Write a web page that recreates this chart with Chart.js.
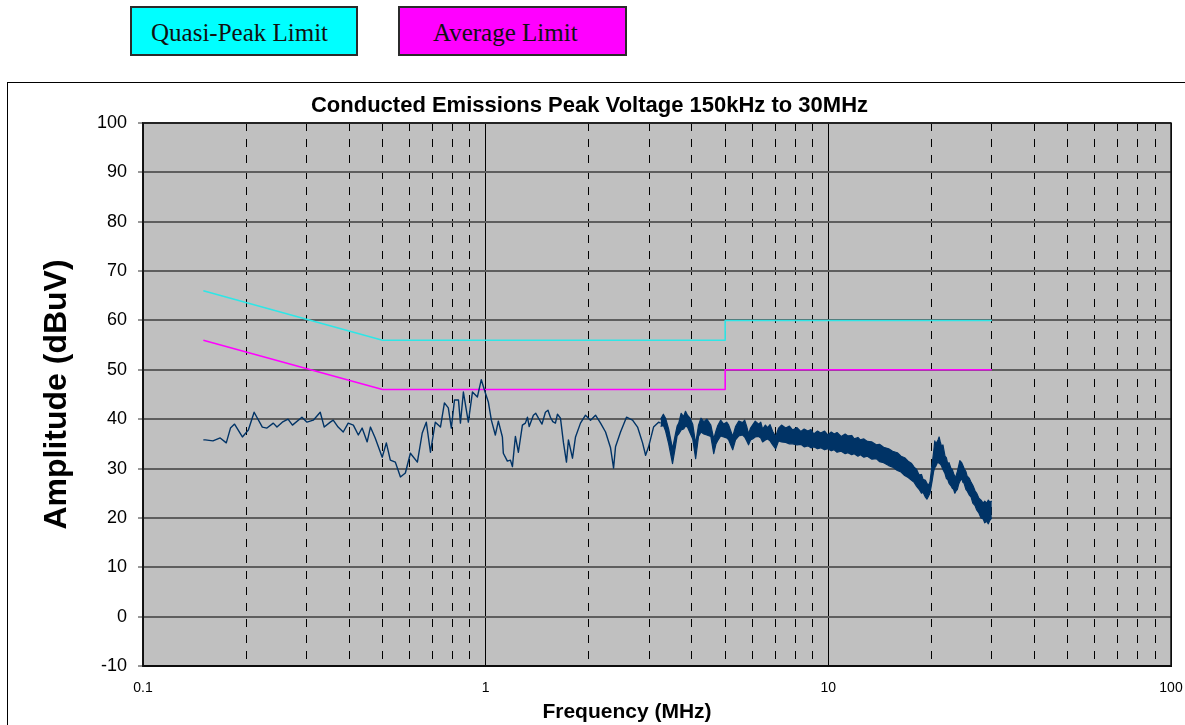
<!DOCTYPE html>
<html>
<head>
<meta charset="utf-8">
<script src="https://cdn.jsdelivr.net/npm/chart.js@4.4.1/dist/chart.umd.min.js"></script>
<style>
  body { margin: 0; background: #fff; width: 1185px; height: 725px; overflow: hidden; position: relative; }
  .key {
    position: absolute; top: 6px; height: 50px; box-sizing: border-box;
    border: 2px solid #2b2b2b;
    font-family: 'Liberation Serif', 'Times New Roman', serif; font-size: 25px;
    line-height: 50px; color: #111; white-space: nowrap;
  }
  #keyQp  { left: 130px; width: 228px; background: #00ffff; padding-left: 19px; }
  #keyAvg { left: 398px; width: 229px; background: #ff00ff; padding-left: 33px; }
  #frame { position: absolute; left: 7px; top: 82px; width: 1190px; height: 660px;
           border-top: 1px solid #000; border-left: 1px solid #000; }
  #wrap  { position: absolute; left: 8px; top: 83px; width: 1177px; height: 642px; }
</style>
</head>
<body>
<div class="key" id="keyQp">Quasi-Peak Limit</div>
<div class="key" id="keyAvg">Average Limit</div>
<div id="frame"></div>
<div id="wrap"><canvas id="emiChart"></canvas></div>

<script>
// ── limit lines (MHz, dBuV) ─────────────────────────────
const qpFreq  = [0.15, 0.5, 5, 5, 30];
const qpLevel = [66, 56, 56, 60, 60];
const avFreq  = [0.15, 0.5, 5, 5, 30];
const avLevel = [56, 46, 46, 50, 50];

const traceFreq = [
  0.150, 0.152, 0.160, 0.168, 0.175, 0.180, 0.185, 0.195, 0.203, 0.211,
  0.223, 0.230, 0.240, 0.246, 0.255, 0.265, 0.273, 0.291, 0.301, 0.314,
  0.329, 0.338, 0.352, 0.359, 0.371, 0.384, 0.397, 0.411, 0.425, 0.436,
  0.451, 0.461, 0.476, 0.499, 0.513, 0.527, 0.545, 0.564, 0.583, 0.603,
  0.632, 0.653, 0.671, 0.690, 0.713, 0.738, 0.758, 0.778, 0.794, 0.811,
  0.833, 0.844, 0.861, 0.890, 0.915, 0.946, 0.971, 0.998, 1.018, 1.039,
  1.067, 1.089, 1.119, 1.126, 1.157, 1.181, 1.197, 1.221, 1.246, 1.280,
  1.306, 1.324, 1.340, 1.378, 1.400, 1.426, 1.460, 1.494, 1.520, 1.545,
  1.570, 1.598, 1.620, 1.653, 1.687, 1.721, 1.744, 1.792, 1.829, 1.891,
  1.956, 2.023, 2.092, 2.164, 2.238, 2.314, 2.362, 2.393, 2.475, 2.576,
  2.683, 2.775, 2.870, 2.929, 2.988, 3.090, 3.196, 3.240
];
const traceLevel = [
  35.8, 35.8, 35.6, 36.2, 35.2, 38.2, 39.0, 36.4, 37.8, 41.4,
  38.4, 38.2, 39.2, 38.4, 39.4, 40.0, 38.8, 40.4, 39.4, 39.8,
  41.4, 38.4, 39.4, 39.8, 38.4, 37.4, 39.2, 38.8, 36.8, 38.2,
  35.4, 38.4, 36.2, 32.3, 35.2, 31.7, 31.3, 28.3, 29.1, 33.1,
  31.3, 37.2, 39.4, 33.3, 39.4, 38.4, 43.3, 42.3, 38.2, 43.9,
  43.9, 39.2, 45.5, 39.4, 45.5, 44.5, 48.0, 45.3, 43.5, 39.8,
  36.8, 39.6, 36.4, 33.1, 31.5, 31.7, 30.4, 36.5, 33.3, 38.8,
  39.2, 40.4, 38.5, 40.8, 41.2, 40.2, 39.0, 41.4, 41.8, 40.4,
  39.5, 39.2, 41.0, 40.2, 35.2, 31.3, 35.8, 32.1, 36.4, 39.2,
  40.8, 39.8, 40.8, 39.2, 37.4, 34.2, 30.1, 34.4, 37.4, 40.4,
  39.8, 38.4, 35.2, 32.7, 34.4, 38.4, 39.4, 39.2
];

// ── dense part of the trace (3.2 - 30 MHz): upper / lower edge of the band ─
const bandFreq = [
  3.24, 3.30, 3.35, 3.42, 3.51, 3.58, 3.62, 3.66, 3.72, 3.78,
  3.83, 3.88, 3.95, 4.02, 4.10, 4.18, 4.25, 4.33, 4.42, 4.54,
  4.63, 4.70, 4.75, 4.85, 4.95, 5.05, 5.12, 5.26, 5.36, 5.48,
  5.62, 5.70, 5.78, 5.85, 5.93, 6.01, 6.12, 6.26, 6.35, 6.43,
  6.55, 6.65, 6.76, 6.88, 7.02, 7.16, 7.30, 7.51, 7.70, 7.87,
  8.10, 8.31, 8.50, 8.71, 8.90, 9.07, 9.30, 9.50, 9.75, 9.96,
  10.2, 10.4, 10.6, 10.9, 11.2, 11.4, 11.7, 11.9, 12.2, 12.4,
  12.7, 13.0, 13.4, 13.8, 14.1, 14.5, 15.0, 15.4, 15.9, 16.3,
  16.7, 17.1, 17.5, 17.8, 18.1, 18.4, 18.7, 18.9, 19.2, 19.4,
  19.6, 19.8, 20.1, 20.3, 20.45, 20.6, 20.9, 21.05, 21.2, 21.4,
  21.6, 21.9, 22.1, 22.3, 22.5, 22.8, 23.0, 23.2, 23.4, 23.6,
  23.8, 24.0, 24.2, 24.5, 24.7, 24.9, 25.2, 25.4, 25.8, 26.1,
  26.4, 26.8, 27.1, 27.5, 27.9, 28.3, 28.6, 29.0, 29.3, 29.6,
  30.0
];
const bandUpper = [
  40.0, 41.0, 40.2, 38.0, 34.0, 37.0, 38.6, 39.2, 41.2, 40.5,
  41.6, 40.8, 40.2, 39.0, 35.0, 38.8, 40.2, 39.5, 40.0, 38.8,
  36.0, 37.6, 38.6, 39.8, 39.0, 39.4, 38.8, 36.5, 38.5, 39.6,
  39.3, 39.8, 38.5, 37.0, 38.2, 38.8, 39.6, 39.0, 39.4, 38.0,
  38.8, 38.3, 38.9, 37.5, 36.5, 38.2, 38.8, 38.2, 38.6, 37.8,
  38.3, 37.5, 38.0, 37.6, 37.9, 37.0, 37.6, 37.2, 37.6, 36.8,
  37.4, 37.0, 37.3, 36.5, 37.0, 36.6, 36.7, 36.0, 36.3, 35.8,
  36.0, 35.5, 35.4, 34.8, 34.9, 34.3, 34.0, 33.5, 33.2, 32.5,
  32.2, 31.5, 31.0, 30.3, 29.8, 28.7, 28.8, 27.8, 27.6, 27.0,
  26.6, 27.3, 31.0, 33.5, 35.6, 35.0, 35.8, 36.4, 35.5, 34.5,
  34.8, 32.5, 32.2, 31.0, 31.2, 30.0, 29.8, 29.0, 28.4, 28.5,
  29.4, 30.5, 31.6, 31.2, 30.6, 30.0, 29.4, 28.5, 28.0, 27.2,
  26.6, 25.5, 25.0, 24.0, 23.6, 23.0, 23.4, 23.0, 23.6, 23.2,
  23.4
];
const bandLower = [
  38.5, 38.8, 37.6, 35.0, 31.0, 34.5, 36.6, 37.0, 37.8, 38.0,
  38.6, 38.4, 37.2, 36.0, 32.0, 36.5, 37.4, 37.0, 36.8, 36.5,
  33.0, 35.0, 35.6, 36.6, 36.4, 36.2, 35.8, 33.8, 35.8, 36.6,
  36.8, 36.4, 35.6, 34.8, 35.8, 36.0, 36.4, 36.5, 36.2, 35.4,
  35.8, 36.0, 35.6, 34.8, 34.0, 35.6, 35.4, 35.3, 35.0, 35.0,
  34.8, 34.9, 34.4, 34.6, 34.2, 34.4, 34.0, 34.2, 33.8, 34.0,
  33.6, 33.8, 33.3, 33.5, 33.0, 33.2, 32.8, 33.0, 32.5, 32.8,
  32.3, 32.5, 31.9, 32.0, 31.4, 31.2, 30.6, 30.3, 29.6, 29.3,
  28.6, 28.2, 27.6, 27.2, 26.4, 25.8, 25.0, 25.2, 24.2, 23.8,
  24.4, 25.0, 27.6, 29.5, 30.2, 30.5, 31.5, 31.0, 31.0, 30.5,
  29.8, 29.0, 28.0, 27.8, 27.0, 26.5, 26.0, 25.8, 25.0, 25.5,
  25.8, 26.8, 27.4, 28.0, 27.2, 27.0, 25.8, 25.5, 24.6, 24.2,
  23.0, 22.5, 21.6, 21.0, 20.0, 19.8, 19.0, 19.3, 18.8, 19.5,
  20.0
];

// ── axes ───────────────────────────────────────────────
const xTicks = [
  0.1, 0.2, 0.3, 0.4, 0.5, 0.6, 0.7, 0.8, 0.9,
  1, 2, 3, 4, 5, 6, 7, 8, 9,
  10, 20, 30, 40, 50, 60, 70, 80, 90, 100
];
const xLabels = ['0.1', '1', '10', '100'];
const yMin = -10, yMax = 100, yStep = 10;

const toXY = (fs, vs) => fs.map((f, i) => ({ x: f, y: vs[i] }));
const isDecade = v => xLabels.includes(String(v));

const traceColor = '#003366';
const sansFont = "'Liberation Sans', Arial, sans-serif";

// grey plot area + black outline, x title placed like the original
const plotFrame = {
  id: 'plotFrame',
  beforeDraw(chart) {
    const { ctx, chartArea: a } = chart;
    ctx.save();
    ctx.fillStyle = '#c0c0c0';
    ctx.fillRect(a.left, a.top, a.right - a.left, a.bottom - a.top);
    ctx.restore();
  },
  afterDraw(chart) {
    const { ctx, chartArea: a } = chart;
    ctx.save();
    ctx.strokeStyle = '#111';
    ctx.lineWidth = 1.5;
    ctx.strokeRect(a.left, a.top, a.right - a.left, a.bottom - a.top);
    ctx.fillStyle = '#000';
    ctx.font = `bold 21px ${sansFont}`;
    ctx.textAlign = 'center';
    ctx.textBaseline = 'middle';
    ctx.fillText('Frequency (MHz)', 619, 629);
    ctx.restore();
  }
};

new Chart(document.getElementById('emiChart'), {
  type: 'line',
  data: {
    datasets: [
      {
        label: 'Peak',
        data: toXY(traceFreq, traceLevel),
        borderColor: traceColor,
        borderWidth: 1.4,
        fill: false,
      },
      {
        label: 'Peak band upper',
        data: toXY(bandFreq, bandUpper),
        borderColor: traceColor,
        backgroundColor: traceColor,
        borderWidth: 1.2,
        fill: '+1',
      },
      {
        label: 'Peak band lower',
        data: toXY(bandFreq, bandLower),
        borderColor: traceColor,
        borderWidth: 1.2,
        fill: false,
      },
      {
        label: 'Quasi-Peak Limit',
        data: toXY(qpFreq, qpLevel),
        borderColor: '#2ee6e6',
        borderWidth: 1.6,
        fill: false,
      },
      {
        label: 'Average Limit',
        data: toXY(avFreq, avLevel),
        borderColor: '#ff00ff',
        borderWidth: 1.6,
        fill: false,
      },
    ],
  },
  options: {
    responsive: true,
    maintainAspectRatio: false,
    animation: false,
    events: [],
    elements: { point: { radius: 0 }, line: { tension: 0, borderJoinStyle: 'round' } },
    layout: { padding: { left: 0, right: 14, top: 0, bottom: 0 } },
    plugins: {
      legend: { display: false },
      tooltip: { enabled: false },
      title: {
        display: true,
        text: 'Conducted Emissions Peak Voltage 150kHz to 30MHz',
        color: '#000',
        font: { family: sansFont, size: 22, weight: 'bold' },
        padding: { top: 10, bottom: 3.6 },
      },
    },
    scales: {
      x: {
        type: 'logarithmic',
        min: 0.1,
        max: 100,
        afterFit: s => { s.height = 59; s.paddingLeft = 0; s.paddingRight = 0; },
        afterBuildTicks: s => { s.ticks = xTicks.map(v => ({ value: v, major: isDecade(v) })); },
        grid: { color: '#000', lineWidth: 1, drawTicks: false },
        border: {
          display: true, color: '#000', width: 2,
          dash: ctx => (ctx.tick && !isDecade(ctx.tick.value)) ? [8, 8] : [],
        },
        ticks: {
          autoSkip: false, maxRotation: 0, padding: 14, color: '#000',
          font: { family: sansFont, size: 14 },
          callback: v => isDecade(v) ? String(v) : '',
        },
      },
      y: {
        min: yMin,
        max: yMax,
        afterFit: s => { s.width = 135; },
        grid: { color: '#5e5e5e', lineWidth: 2, drawTicks: true, tickLength: 5, tickColor: '#333', tickWidth: 1 },
        border: { display: true, color: '#222', width: 1.5 },
        ticks: {
          stepSize: yStep, padding: 11, color: '#000',
          font: { family: sansFont, size: 18 },
        },
        title: {
          display: true,
          text: 'Amplitude (dBuV)',
          color: '#000',
          font: { family: sansFont, size: 32, weight: 'bold' },
          padding: { top: 30, bottom: 0 },
        },
      },
    },
  },
  plugins: [plotFrame],
});
</script>
</body>
</html>
